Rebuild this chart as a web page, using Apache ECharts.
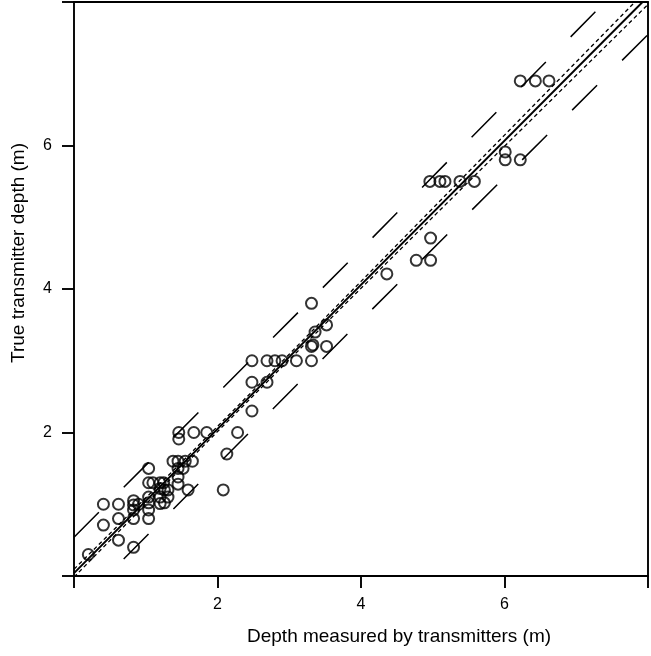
<!DOCTYPE html>
<html>
<head>
<meta charset="utf-8">
<script src="https://cdn.jsdelivr.net/npm/echarts@6/dist/echarts.min.js"></script>
<style>
html,body{margin:0;padding:0;background:#fff;}
#chart{width:651px;height:656px;}
</style>
</head>
<body>
<div id="chart"></div>
<script>
// Observations: depth measured by transmitters (x) vs true transmitter depth (y)
const depthMeasured = [
  0.20, 0.41, 0.41, 0.62, 0.62, 0.62, 0.83, 0.83, 0.83, 0.83, 0.83, 0.90,
  1.04, 1.04, 1.04, 1.04, 1.04, 1.04, 1.10, 1.20, 1.20, 1.20, 1.20, 1.25,
  1.26, 1.31, 1.31, 1.26, 1.38, 1.45, 1.55, 1.65, 1.45, 1.52, 1.45, 1.45,
  1.59, 1.46, 1.46, 1.67, 1.85, 2.08, 2.13, 2.28, 2.48, 2.48, 2.48, 2.69,
  2.69, 2.80, 2.90, 3.10, 3.31, 3.31, 3.52, 3.36, 3.31, 3.33, 3.52, 4.36,
  4.77, 4.97, 4.97, 4.96, 5.10, 5.17, 5.38, 5.58, 6.01, 6.01, 6.22, 6.22,
  6.43, 6.62
];
const depthTrue = [
  0.30, 1.00, 0.71, 1.00, 0.80, 0.50, 0.40, 1.05, 0.99, 0.92, 0.80, 1.00,
  1.50, 1.30, 1.10, 1.02, 0.92, 0.80, 1.30, 1.30, 1.22, 1.10, 1.01, 1.30,
  1.20, 1.10, 1.20, 1.02, 1.60, 1.60, 1.60, 1.60, 1.50, 1.50, 1.38, 1.28,
  1.20, 2.00, 1.91, 2.00, 2.00, 1.20, 1.70, 2.00, 2.30, 2.70, 3.00, 2.70,
  3.00, 3.00, 3.00, 3.00, 3.00, 3.80, 3.50, 3.40, 3.20, 3.22, 3.20, 4.21,
  4.40, 4.40, 4.71, 5.50, 5.50, 5.50, 5.50, 5.50, 5.91, 5.80, 5.80, 6.90,
  6.90, 6.90
];

// Fitted regression line
const fitX = [0, 8];
const fitY = [0.04, 8.076];

// Confidence band (short dashes)
const ciX = [0, 1, 2, 3, 4, 5, 6, 7, 8];
const ciUpper = [0.095, 1.0875, 2.085, 3.0915, 4.106, 5.1245, 6.144, 7.1645, 8.186];
const ciLower = [-0.015, 1.0015, 2.013, 3.0155, 4.01, 5.0005, 5.99, 6.9785, 7.966];

// Prediction band (long dashes)
const piX = [0, 4, 8];
const piUpper = [0.54, 4.553, 8.606];
const piLower = [-0.46, 3.563, 7.546];

// Axis ticks
const tickValues = [0, 2, 4, 6, 8];
const tickLabels = ['', '2', '4', '6', ''];

const xTitle = 'Depth measured by transmitters (m)';
const yTitle = 'True transmitter depth (m)';

const zip = (a, b) => a.map((v, i) => [v, b[i]]);
const labelFor = v => { const i = tickValues.indexOf(v); return i >= 0 ? tickLabels[i] : ''; };

const FONT = 'Liberation Sans, Arial, sans-serif';
const chart = echarts.init(document.getElementById('chart'), null, {renderer: 'canvas'});

const axisCommon = {
  type: 'value', min: 0, max: 8, interval: 2,
  splitLine: {show: false}
};

chart.setOption({
  animation: false,
  backgroundColor: '#fff',
  grid: {left: 74, right: 3, top: 2, bottom: 80, containLabel: false},
  graphic: [
    {type: 'text', left: 247, top: 627,
     style: {text: xTitle, fontSize: 19, fontFamily: FONT, fill: '#000'}},
    {type: 'text', x: 9, y: 253, rotation: Math.PI / 2,
     style: {text: yTitle, fontSize: 19, fontFamily: FONT, fill: '#000', align: 'center', verticalAlign: 'top'}}
  ],
  xAxis: [
    Object.assign({}, axisCommon, {
      position: 'bottom',
      axisLine: {show: true, onZero: false, lineStyle: {color: '#000', width: 1.9}},
      axisTick: {show: true, inside: false, length: 12, lineStyle: {color: '#000', width: 1.9}},
      axisLabel: {formatter: labelFor, color: '#000', fontSize: 16, fontFamily: FONT, margin: 21}
    }),
    Object.assign({}, axisCommon, {
      position: 'top',
      axisLine: {show: true, onZero: false, lineStyle: {color: '#000', width: 1.9}},
      axisTick: {show: false}, axisLabel: {show: false}
    })
  ],
  yAxis: [
    Object.assign({}, axisCommon, {
      position: 'left',
      axisLine: {show: true, onZero: false, lineStyle: {color: '#000', width: 1.9}},
      axisTick: {show: true, inside: false, length: 12, lineStyle: {color: '#000', width: 1.9}},
      axisLabel: {formatter: labelFor, color: '#000', fontSize: 16, fontFamily: FONT, margin: 22}
    }),
    Object.assign({}, axisCommon, {
      position: 'right',
      axisLine: {show: true, onZero: false, lineStyle: {color: '#000', width: 1.9}},
      axisTick: {show: false}, axisLabel: {show: false}
    })
  ],
  series: [
    {
      type: 'line', data: zip(piX, piUpper), symbol: 'none', clip: true, silent: true,
      lineStyle: {color: '#000', width: 1.5, type: [35.2, 35.3]}
    },
    {
      type: 'line', data: zip(piX, piLower), symbol: 'none', clip: true, silent: true,
      lineStyle: {color: '#000', width: 1.5, type: [35.2, 35.3]}
    },
    {
      type: 'line', data: zip(ciX, ciUpper), symbol: 'none', clip: true, silent: true,
      lineStyle: {color: '#000', width: 1.3, type: [4, 3]}
    },
    {
      type: 'line', data: zip(ciX, ciLower), symbol: 'none', clip: true, silent: true,
      lineStyle: {color: '#000', width: 1.3, type: [4, 3]}
    },
    {
      type: 'line', data: zip(fitX, fitY), symbol: 'none', clip: true, silent: true,
      lineStyle: {color: '#000', width: 2, type: 'solid'}
    },
    {
      type: 'scatter', data: zip(depthMeasured, depthTrue),
      symbol: 'circle', symbolSize: 11,
      itemStyle: {color: 'rgba(0,0,0,0)', borderColor: '#000', borderWidth: 2}
    }
  ]
});
</script>
</body>
</html>
